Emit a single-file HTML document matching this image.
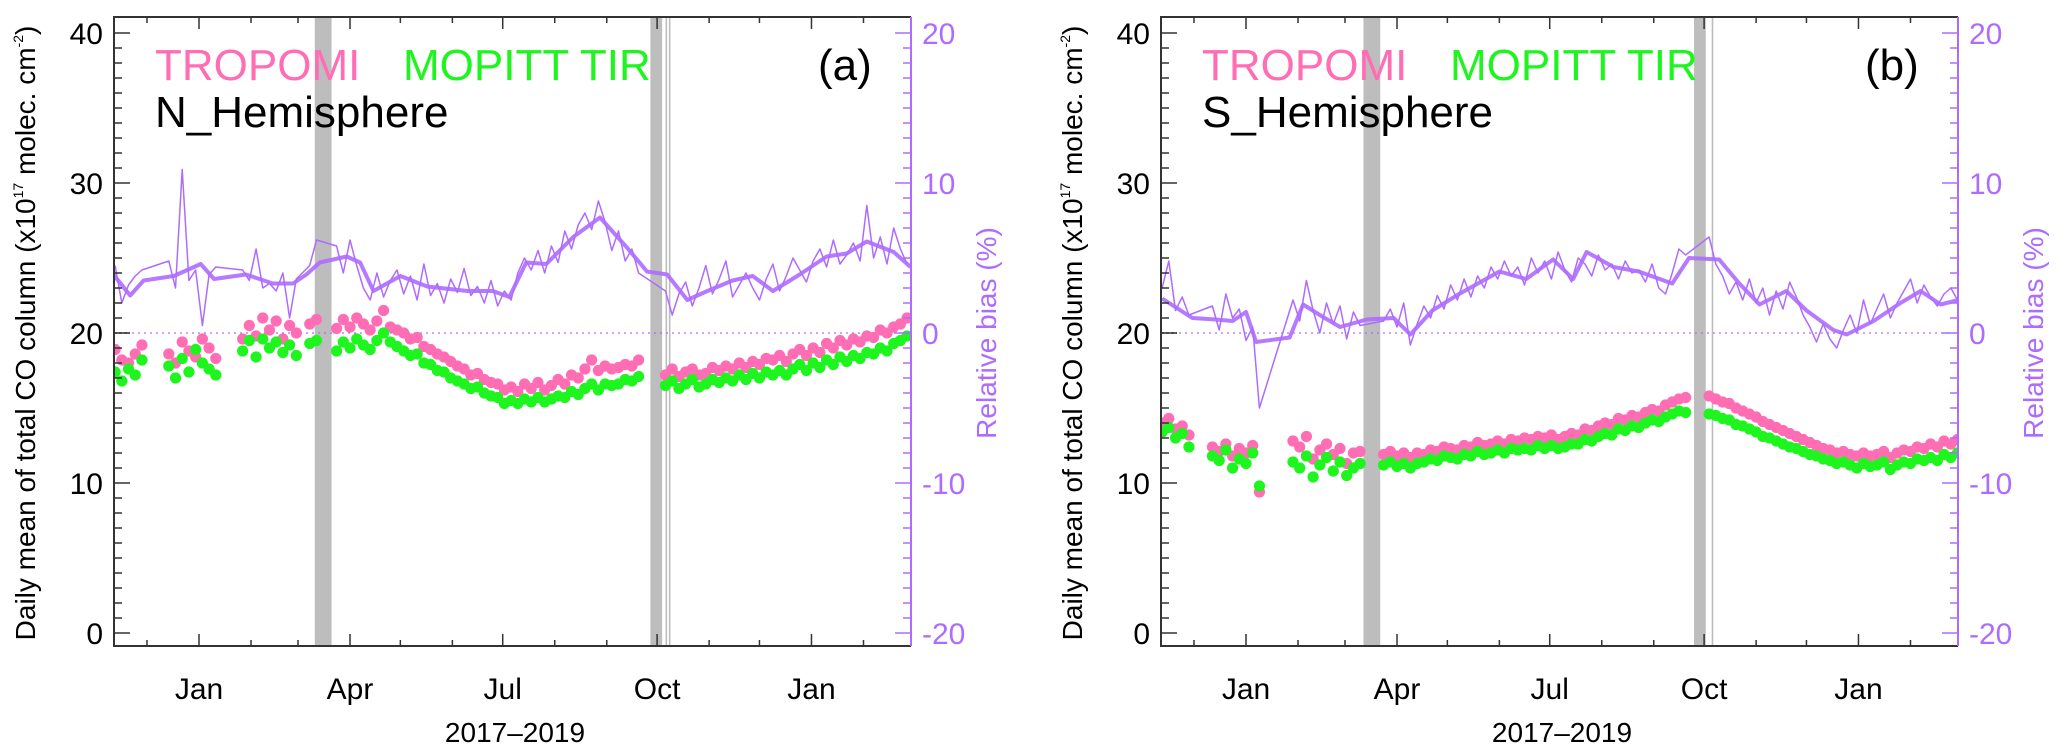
<!DOCTYPE html>
<html><head><meta charset="utf-8">
<style>
html,body{margin:0;padding:0;background:#fff;}
svg{display:block;font-family:"Liberation Sans",Arial,sans-serif;}
</style></head>
<body>
<svg id="chart" width="2067" height="756" viewBox="0 0 2067 756" xmlns="http://www.w3.org/2000/svg">
<defs>
<clipPath id="clipA"><rect x="114" y="17" width="797" height="629"/></clipPath>
<clipPath id="clipB"><rect x="1161" y="17" width="797" height="629"/></clipPath>
</defs>
<g id="panelA"></g>
<g id="panelB"></g>
</svg>
<script>
// ---- shared axis config ----
const monthDays = [-31,0,31,59,90,120,151,181,212,243,273,304,334,365,396];
const majorMonthDays = [0,90,181,273,365];
const monthLabels = ["Jan","Apr","Jul","Oct","Jan"];
const leftTicks = [0,10,20,30,40];
const rightTicks = [-20,-10,0,10,20];

// ---- Panel A (N_Hemisphere) ----
const aDays = [-50,-46,-42,-38,-34,-18,-14,-10,-6,-2,2,6,10,26,30,34,38,42,46,50,54,58,66,70,82,86,90,94,98,102,106,110,114,118,122,126,130,134,138,142,146,150,154,158,162,166,170,174,178,182,186,190,194,198,202,206,210,214,218,222,226,230,234,238,242,246,250,254,258,262,278,282,286,290,294,298,302,306,310,314,318,322,326,330,334,338,342,346,350,354,358,362,366,370,374,378,382,386,390,394,398,402,406,410,414,418,422];
const aTrop = [18.9,18.2,18.0,18.6,19.2, 18.6,18.0,19.4,18.8,18.4,19.6,19.0,18.3, 19.6,20.5,19.8,21.0,20.2,20.8,19.6,20.5,20.0, 20.6,20.9,
20.3,20.9,20.4,21.0,20.6,20.2,20.8,21.5,20.4,20.2,20.0,19.6,19.7,19.1,18.9,18.6,18.4,18.1,17.8,17.6,17.2,17.3,16.9,16.7,16.6,16.2,16.4,16.1,16.6,16.3,16.7,16.2,16.5,16.9,16.6,17.2,17.0,17.6,18.2,17.5,17.8,17.6,17.7,17.9,17.8,18.2,
17.2,17.6,17.1,17.4,17.6,17.2,17.3,17.7,17.5,17.8,17.6,18.0,17.7,18.1,17.9,18.3,18.2,18.5,18.1,18.6,18.9,18.5,19.0,18.7,19.3,19.0,19.5,19.2,19.6,19.4,19.8,19.7,20.2,20.0,20.4,20.6,21.0];
const aMop = [17.4,16.8,17.6,17.2,18.2, 17.8,17.0,18.3,17.4,18.9,18.0,17.6,17.2, 18.8,19.5,18.4,19.6,19.0,19.4,18.7,19.2,18.5, 19.3,19.5,
18.8,19.4,19.0,19.6,19.2,18.9,19.5,20.0,19.4,19.1,18.8,18.5,18.6,18.0,17.9,17.5,17.4,17.0,16.8,16.6,16.3,16.4,16.0,15.8,15.7,15.3,15.5,15.3,15.6,15.4,15.7,15.4,15.6,15.8,15.7,16.1,15.9,16.3,16.6,16.2,16.6,16.5,16.6,16.9,16.8,17.1,
16.5,16.8,16.3,16.6,16.9,16.4,16.6,16.9,16.7,17.0,16.8,17.2,16.9,17.3,17.0,17.4,17.2,17.5,17.2,17.6,17.9,17.5,18.0,17.7,18.2,17.9,18.4,18.1,18.5,18.3,18.7,18.6,19.0,18.8,19.3,19.5,19.8];
const aBias = [4.5,2.0,3.2,3.8,4.2, 4.8,3.0,10.9,3.5,4.2,0.5,3.9,4.4, 4.2,3.5,5.6,3.0,3.3,2.8,4.0,1.0,3.6, 4.5,6.2,
5.8,4.0,6.2,4.5,3.0,2.2,4.0,2.4,3.5,4.2,2.6,3.8,2.2,4.6,2.5,3.3,2.0,3.6,2.7,4.3,2.5,3.1,2.0,3.5,1.8,2.8,2.2,4.0,5.0,4.2,5.5,4.0,5.8,4.7,6.8,5.6,7.2,8.0,6.9,8.8,7.4,5.5,6.8,4.8,5.6,4.0,
2.8,1.2,2.6,3.4,1.8,3.0,4.5,2.6,3.6,4.8,2.4,3.2,4.0,3.0,2.2,3.6,4.6,2.8,3.8,5.0,4.2,3.4,4.8,5.6,4.4,6.2,4.6,5.2,6.0,4.8,8.5,5.0,6.4,4.6,7.0,5.6,4.6];
const aSmoothDays = [-51,-41,-33,-15,1,9,28,44,56,64,72,88,96,104,120,136,160,175,185,195,207,223,239,255,267,279,291,303,318,330,342,358,374,386,398,414,424];
const aSmooth = [3.9,2.5,3.5,3.8,4.6,3.6,3.9,3.3,3.3,3.9,4.7,5.1,4.7,2.8,3.8,3.1,2.8,2.8,2.4,4.7,4.6,6.4,7.7,5.7,4.1,3.9,2.2,2.8,3.5,3.8,2.8,3.9,5.1,5.3,6.1,5.4,4.4];
const aBars = [[69,79],[269,276]];
const aLines = [278.5,280.5];

// ---- Panel B (S_Hemisphere) ----
const bDays = [-50,-46,-42,-38,-34,-20,-16,-12,-8,-4,0,4,8,28,32,36,40,44,48,52,56,60,64,68,82,86,90,94,98,102,106,110,114,118,122,126,130,134,138,142,146,150,154,158,162,166,170,174,178,182,186,190,194,198,202,206,210,214,218,222,226,230,234,238,242,246,250,254,258,262,276,280,284,288,292,296,300,304,308,312,316,320,324,328,332,336,340,344,348,352,356,360,364,368,372,376,380,384,388,392,396,400,404,408,412,416,420,424];
const bTrop = [14.0,14.3,13.6,13.8,13.2, 12.4,12.1,12.6,11.8,12.3,12.0,12.5,9.4, 12.8,12.4,13.1,11.6,12.2,12.6,11.9,12.3,11.3,12.0,12.1,
11.9,12.1,11.8,12.0,11.7,12.0,11.9,12.2,12.1,12.4,12.3,12.2,12.5,12.4,12.7,12.5,12.6,12.8,12.6,12.9,12.8,13.0,12.9,13.1,13.0,13.2,12.9,13.1,13.3,13.2,13.6,13.5,13.8,14.0,13.9,14.3,14.2,14.5,14.4,14.7,14.9,14.8,15.2,15.4,15.6,15.7,
15.8,15.6,15.4,15.3,15.0,14.8,14.6,14.4,14.1,13.9,13.7,13.5,13.3,13.1,12.9,12.7,12.5,12.3,12.2,12.0,12.1,11.9,11.8,12.0,11.8,11.9,12.1,11.7,12.0,12.2,12.1,12.4,12.3,12.6,12.4,12.8,12.6,12.9];
const bMop = [13.4,13.7,13.0,13.3,12.4, 11.8,11.5,12.2,11.0,11.6,11.3,12.0,9.8, 11.4,11.0,11.8,10.4,11.2,11.7,10.8,11.4,10.5,11.0,11.3,
11.2,11.4,11.1,11.3,11.0,11.3,11.4,11.6,11.5,11.8,11.7,11.6,11.9,11.8,12.1,11.9,12.0,12.2,12.0,12.3,12.2,12.3,12.2,12.5,12.3,12.5,12.3,12.4,12.6,12.6,12.9,12.8,13.1,13.3,13.2,13.6,13.5,13.8,13.7,14.0,14.2,14.1,14.4,14.6,14.8,14.7,
14.6,14.5,14.3,14.2,13.9,13.8,13.6,13.4,13.1,13.0,12.8,12.6,12.4,12.3,12.1,11.9,11.8,11.6,11.5,11.3,11.4,11.2,11.0,11.3,11.1,11.2,11.4,10.9,11.2,11.4,11.3,11.6,11.5,11.7,11.5,11.9,11.7,12.0];
const bBias = [3.0,4.8,1.5,2.4,1.2, 1.8,0.2,2.6,1.0,1.6,-0.5,0.4,-5.0, 2.2,0.8,3.5,1.5,0.0,2.0,0.6,1.8,-0.4,1.4,0.5,
0.8,1.6,0.4,2.0,-0.8,0.6,1.8,1.0,2.5,1.6,3.2,2.2,3.6,2.4,3.8,3.0,4.4,3.6,4.8,3.8,4.4,3.2,5.0,4.0,4.8,3.6,5.4,4.2,3.4,5.0,4.6,3.8,5.2,4.2,4.6,3.6,4.8,4.0,4.2,3.4,4.6,3.0,2.6,4.0,5.6,5.2,
6.4,4.6,3.8,2.6,3.4,2.2,3.6,2.0,3.0,1.2,2.8,1.6,3.4,2.4,1.2,0.4,-0.6,0.6,-0.4,-1.0,0.2,1.2,0.0,2.2,0.6,1.6,2.6,1.0,2.0,2.8,3.6,2.0,3.2,2.4,1.8,2.6,3.0,2.2];
const bSmoothDays = [-50,-32,-18,-8,0,6,26,34,44,56,72,88,98,111,127,151,167,183,195,203,219,234,254,264,282,294,306,322,334,350,358,374,390,402,414,428];
const bSmooth = [2.3,1.0,0.9,0.8,1.4,-0.6,-0.3,1.9,1.2,0.4,0.9,1.0,-0.1,1.5,2.6,4.1,3.6,4.9,3.6,5.4,4.4,4.1,3.3,5.0,4.9,3.3,1.9,2.8,1.5,0.2,-0.1,0.8,2.0,2.8,1.9,2.3];
const bBars = [[70,80],[267,274]];
const bLines = [278];

const NS = "http://www.w3.org/2000/svg";
const PURPLE = "#ad6cff", PINK = "#ff6db4", GREEN = "#1ef51e";
const TOP = 17, BOT = 646;
function yL(v){ return 633 - v*15.0; }
function yR(b){ return yL(20 + b); }

function mk(tag, attrs, parent){
  const e = document.createElementNS(NS, tag);
  for (const k in attrs) e.setAttribute(k, attrs[k]);
  parent.appendChild(e);
  return e;
}

function drawPanel(g, off, cfg){
  const L = 114 + off, R = 911 + off;
  const xD = d => 199 + off + d*1.678;
  cfg.bars.forEach(b => {
    const r = mk("rect", {x: xD(b[0]), y: TOP, width: xD(b[1]) - xD(b[0]), height: BOT-TOP, fill: "#bdbdbd"}, g);
    
    
  });
  cfg.lines.forEach(d => {
    const l = mk("line", {x1: xD(d), x2: xD(d), y1: TOP, y2: BOT, stroke: "#bdbdbd", "stroke-width": 1.6}, g);
    
    
  });
  const z = mk("line", {x1: L, x2: R, y1: yR(0), y2: yR(0), stroke: PURPLE, "stroke-width": 1.3, "stroke-dasharray": "2 4"}, g);
  
  
  const zk = mk("line", {x1: L, x2: L+16, y1: yR(0), y2: yR(0), stroke: "#333", "stroke-width": 1.5, "stroke-dasharray": "3 2"}, g);
  
  

  const clip = mk("g", {"clip-path": "url(#" + cfg.clip + ")"}, g);
  
  

  const n = Math.min(cfg.days.length, cfg.trop.length, cfg.mop.length);
  for (let i = 0; i < n; i++){
    const c = mk("circle", {cx: xD(cfg.days[i]), cy: yL(cfg.trop[i]), r: 5.6, fill: PINK}, clip);
    
    
  }
  for (let i = 0; i < n; i++){
    const c = mk("circle", {cx: xD(cfg.days[i]), cy: yL(cfg.mop[i]), r: 5.6, fill: GREEN}, clip);
    
    
  }
  const nb = Math.min(cfg.days.length, cfg.bias.length);
  let p = "";
  for (let i = 0; i < nb; i++) p += (i ? "L" : "M") + xD(cfg.days[i]).toFixed(1) + " " + yR(cfg.bias[i]).toFixed(1);
  const t = mk("path", {d: p, fill: "none", stroke: PURPLE, "stroke-width": 1.5, "stroke-linejoin": "round"}, clip);
  
  
  let q = "";
  const ns = Math.min(cfg.sdays.length, cfg.smooth.length);
  for (let i = 0; i < ns; i++) q += (i ? "L" : "M") + xD(cfg.sdays[i]).toFixed(1) + " " + yR(cfg.smooth[i]).toFixed(1);
  const s = mk("path", {d: q, fill: "none", stroke: PURPLE, "stroke-width": 4, "stroke-linejoin": "round", opacity: 0.9}, clip);
  
  

  const fr = mk("path", {d: `M${R} ${TOP}L${L} ${TOP}L${L} ${BOT}L${R} ${BOT}`, fill: "none", stroke: "#333", "stroke-width": 2}, g);
  
  
  const ra = mk("line", {x1: R, x2: R, y1: TOP, y2: BOT, stroke: PURPLE, "stroke-width": 2}, g);
  
  

  for (let v = 0; v <= 40; v++){
    const maj = v % 10 === 0;
    const tk = mk("line", {x1: L, x2: L + (maj ? 16 : 8), y1: yL(v), y2: yL(v), stroke: "#333", "stroke-width": 1.5}, g);
    
    
  }
  leftTicks.forEach(v => {
    const tx = mk("text", {x: L - 11, y: yL(v) + 11, "font-size": 30, "text-anchor": "end", fill: "#000"}, g);
    tx.textContent = String(v);
    
    
  });
  for (let b = -20; b <= 20; b++){
    const maj = b % 10 === 0;
    const tk = mk("line", {x1: R, x2: R - (maj ? 16 : 8), y1: yR(b), y2: yR(b), stroke: PURPLE, "stroke-width": 1.5}, g);
    
    
  }
  rightTicks.forEach(b => {
    const tx = mk("text", {x: R + 11, y: yR(b) + 11, "font-size": 30, fill: PURPLE}, g);
    tx.textContent = String(b);
    
    
  });
  monthDays.forEach(d => {
    const maj = majorMonthDays.indexOf(d) >= 0;
    const len = maj ? 12 : 6;
    const x = xD(d);
    const b = mk("line", {x1: x, x2: x, y1: BOT, y2: BOT - len, stroke: "#333", "stroke-width": 1.5}, g);
    
    
    const t2 = mk("line", {x1: x, x2: x, y1: TOP, y2: TOP + len, stroke: "#333", "stroke-width": 1.5}, g);
    
    
  });
  majorMonthDays.forEach((d, i) => {
    const tx = mk("text", {x: xD(d), y: 699, "font-size": 30, "text-anchor": "middle", fill: "#000"}, g);
    tx.textContent = monthLabels[i];
    
    
  });
  const xt = mk("text", {x: 515 + off, y: 742, "font-size": 28, "text-anchor": "middle", fill: "#000"}, g);
  xt.textContent = "2017–2019";
  
  

  const yt = mk("text", {transform: `translate(${35 + off} 333) rotate(-90)`, "font-size": 28, "text-anchor": "middle", fill: "#000"}, g);
  
  
  yt.innerHTML = 'Daily mean of total CO column (x10<tspan dy="-12" font-size="14">17</tspan><tspan dy="12"> molec. cm</tspan><tspan dy="-12" font-size="14">-2</tspan><tspan dy="12">)</tspan>';
  const rt = mk("text", {transform: `translate(${996 + off} 333) rotate(-90)`, "font-size": 28, "text-anchor": "middle", fill: PURPLE}, g);
  rt.textContent = "Relative bias (%)";
  
  

  const l1 = mk("text", {x: 155 + off, y: 80, "font-size": 44, fill: PINK}, g);
  l1.textContent = "TROPOMI";
  
  
  const l2 = mk("text", {x: 403 + off, y: 80, "font-size": 44, fill: GREEN}, g);
  l2.textContent = "MOPITT TIR";
  
  
  const rg = mk("text", {x: 155 + off, y: 127, "font-size": 44, fill: "#000"}, g);
  rg.textContent = cfg.region;
  
  
  const pl = mk("text", {x: 818 + off, y: 80, "font-size": 44, fill: "#000"}, g);
  pl.textContent = cfg.label;
  
  
}

drawPanel(document.getElementById("panelA"), 0, {days: aDays, trop: aTrop, mop: aMop, bias: aBias, sdays: aSmoothDays, smooth: aSmooth, bars: aBars, lines: aLines, clip: "clipA", region: "N_Hemisphere", label: "(a)"});
drawPanel(document.getElementById("panelB"), 1047, {days: bDays, trop: bTrop, mop: bMop, bias: bBias, sdays: bSmoothDays, smooth: bSmooth, bars: bBars, lines: bLines, clip: "clipB", region: "S_Hemisphere", label: "(b)"});
</script>
</body></html>
